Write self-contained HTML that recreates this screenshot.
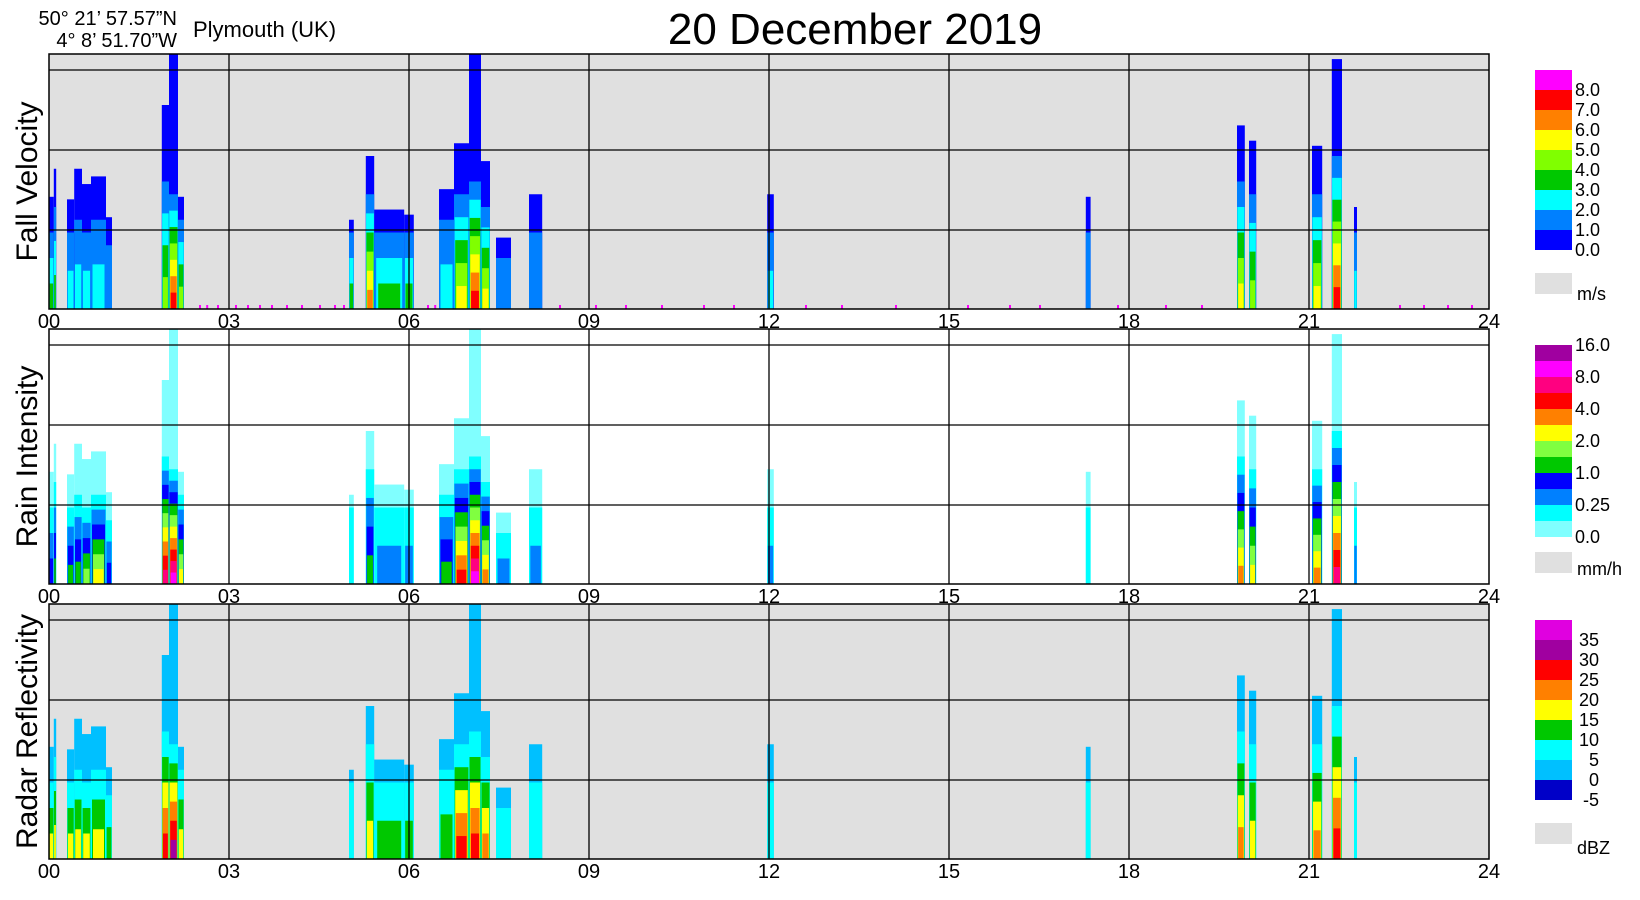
<!DOCTYPE html>
<html><head><meta charset="utf-8"><style>
html,body{margin:0;padding:0;background:#fff;}
svg{display:block;font-family:"Liberation Sans",Arial,sans-serif;}
</style></head><body>
<svg id="chart" width="1640" height="900" viewBox="0 0 1640 900" xmlns="http://www.w3.org/2000/svg">
<text x="177" y="25" font-size="20" text-anchor="end">50° 21’ 57.57”N</text>
<text x="177" y="47" font-size="20" text-anchor="end">4°   8’ 51.70”W</text>
<text x="193" y="37" font-size="22">Plymouth (UK)</text>
<text x="855" y="44" font-size="44" text-anchor="middle">20 December  2019</text>
<g id="panels"></g>
</svg>
<script>
// event data (hours, top fraction of panel height, core top fraction)
const evStart = [0.00,0.08,0.30,0.42,0.55,0.70,0.95,1.88,2.00,2.15,5.00,5.28,5.42,5.92,6.50,6.75,7.00,7.20,7.45,8.00,11.97,17.28,19.80,20.00,21.05,21.38,21.75];
const evEnd   = [0.08,0.12,0.42,0.55,0.70,0.95,1.05,2.00,2.15,2.25,5.08,5.42,5.92,6.08,6.75,7.00,7.20,7.35,7.70,8.22,12.08,17.36,19.93,20.12,21.22,21.55,21.80];
const evTop   = [0.44,0.55,0.43,0.55,0.49,0.52,0.36,0.80,1.00,0.44,0.35,0.60,0.39,0.37,0.47,0.65,1.00,0.58,0.28,0.45,0.45,0.44,0.72,0.66,0.64,0.98,0.40];
const evCoreTop=[0.30,0.40,0.30,0.35,0.30,0.35,0.25,0.50,0.45,0.35,0.30,0.45,0.30,0.30,0.35,0.45,0.50,0.40,0.20,0.30,0.30,0.30,0.50,0.45,0.45,0.60,0.30];
// per-panel core level (colour index at ground)
const coreFall  = [3,3,2,2,2,2,1,4,7,4,3,6,3,3,2,5,7,5,1,1,2,1,5,4,5,7,2];
const coreRain  = [3,4,4,4,5,6,3,9,10,6,1,4,2,2,4,8,10,7,2,2,2,1,7,6,7,9,2];
const coreRefl  = [4,4,4,4,4,4,3,6,7,4,2,4,3,3,3,6,6,5,2,2,2,2,5,4,5,6,2];
const fallTicks = [2.5,2.62,2.8,3.1,3.3,3.5,3.7,3.95,4.2,4.5,4.75,4.9,6.3,6.42,8.5,9.1,9.6,10.2,10.9,11.4,12.6,13.2,14.1,15.3,16.0,16.5,17.8,18.6,19.2,22.5,22.9,23.3,23.7];
const cmapFall = ['#0000ff','#0080ff','#00ffff','#00c800','#80ff00','#ffff00','#ff8000','#ff0000','#ff00ff'];
const cmapRain = ['#80ffff','#00ffff','#0080ff','#0000ff','#00c800','#80ff40','#ffff00','#ff8000','#ff0000','#ff0080','#ff00ff','#a000a0'];
const cmapRefl = ['#0000c8','#00c0ff','#00ffff','#00c800','#ffff00','#ff8000','#ff0000','#a000a0','#e000e0'];
const labFall = ['8.0','7.0','6.0','5.0','4.0','3.0','2.0','1.0','0.0'];
const labRain = ['16.0','8.0','4.0','2.0','1.0','0.25','0.0'];
const labRefl = ['35','30','25','20','15','10','5','0','-5'];
const xTicks = ['00','03','06','09','12','15','18','21','24'];

const NS='http://www.w3.org/2000/svg';
const root=document.getElementById('panels');
const X0=49, HW=60, PH=255;
const xs=h=>X0+h*HW;
function el(tag,attrs,parent){const e=document.createElementNS(NS,tag);for(const k in attrs)e.setAttribute(k,attrs[k]);(parent||root).appendChild(e);return e;}

const panels=[
 {title:'Fall Velocity',bg:'#e0e0e0',cmap:cmapFall,core:coreFall,outer:0,name:'fall-velocity'},
 {title:'Rain Intensity',bg:'#ffffff',cmap:cmapRain,core:coreRain,outer:0,name:'rain-intensity'},
 {title:'Radar Reflectivity',bg:'#e0e0e0',cmap:cmapRefl,core:coreRefl,outer:1,name:'radar-reflectivity'}
];
panels.forEach((p,i)=>{
  const y0=54+i*275, yb=y0+PH;
  const g=el('g',{});
  
  
  const bg=el('rect',{x:X0,y:y0,width:1440,height:PH,fill:p.bg},g);
  
  
  const ys=f=>yb-f*PH;
  for(let e=0;e<evStart.length;e++){
    const x=xs(evStart[e]), w=Math.max(2,xs(evEnd[e])-x);
    const r=el('rect',{x:x,y:ys(evTop[e]),width:w,height:evTop[e]*PH,fill:p.cmap[p.outer]},g);
    
    
    const n=p.core[e];
    for(let k=p.outer+1;k<=n;k++){
      const frac=evCoreTop[e]*(1-(k-p.outer-1)/Math.max(1,n-p.outer));
      const inset=w*0.2*(k-p.outer-1)/Math.max(1,n-p.outer);
      const c=el('rect',{x:x+inset,y:ys(frac),width:Math.max(1,w-2*inset),height:frac*PH,fill:p.cmap[k]},g);
      
      
    }
  }
  if(i===0){
    fallTicks.forEach(t=>{
      const m=el('rect',{x:xs(t),y:yb-4,width:2,height:4,fill:'#ff00ff'},g);
      
      
    });
  }
  [16,96,176].forEach(d=>el('line',{x1:X0,x2:X0+1440,y1:y0+d,y2:y0+d,stroke:'#000','stroke-width':1.3},g));
  for(let k=1;k<8;k++) el('line',{x1:xs(k*3),x2:xs(k*3),y1:y0,y2:yb,stroke:'#000','stroke-width':1.3},g);
  el('rect',{x:X0,y:y0,width:1440,height:PH,fill:'none',stroke:'#000','stroke-width':1.5},g);
  xTicks.forEach((t,k)=>{
    const tx=el('text',{x:xs(k*3),y:yb+19,'font-size':20,'text-anchor':'middle'},g);
    tx.textContent=t;
    
    
  });
  const yt=el('text',{x:0,y:0,'font-size':30,'text-anchor':'middle',transform:`translate(37,${y0+PH/2}) rotate(-90)`},g);
  yt.textContent=p.title;
  
  
});

// legends
function legend(y0,cell,cmap,labels,labStep,labOffset,labX,anchor,unit,grayY,unitY,name){
  const g=el('g',{});
  
  
  const n=cmap.length;
  for(let k=0;k<n;k++){
    const r=el('rect',{x:1535,y:y0+k*cell,width:37,height:cell,fill:cmap[n-1-k]},g);
    
    
  }
  labels.forEach((l,k)=>{
    const t=el('text',{x:labX,y:y0+labOffset+k*labStep+6,'font-size':18,'text-anchor':anchor},g);
    t.textContent=l;
    
    
  });
  el('rect',{x:1535,y:grayY,width:37,height:21,fill:'#e0e0e0'},g);
  const u=el('text',{x:1577,y:unitY+6,'font-size':18},g);
  u.textContent=unit;
  
  
}
legend(70,20,cmapFall,labFall,20,20,1575,'start','m/s',273,294,'fall-velocity');
legend(345,16,cmapRain,labRain,32,0,1575,'start','mm/h',552,569,'rain-intensity');
legend(620,20,cmapRefl,labRefl,20,20,1599,'end','dBZ',823,848,'radar-reflectivity');
</script>
</body></html>
